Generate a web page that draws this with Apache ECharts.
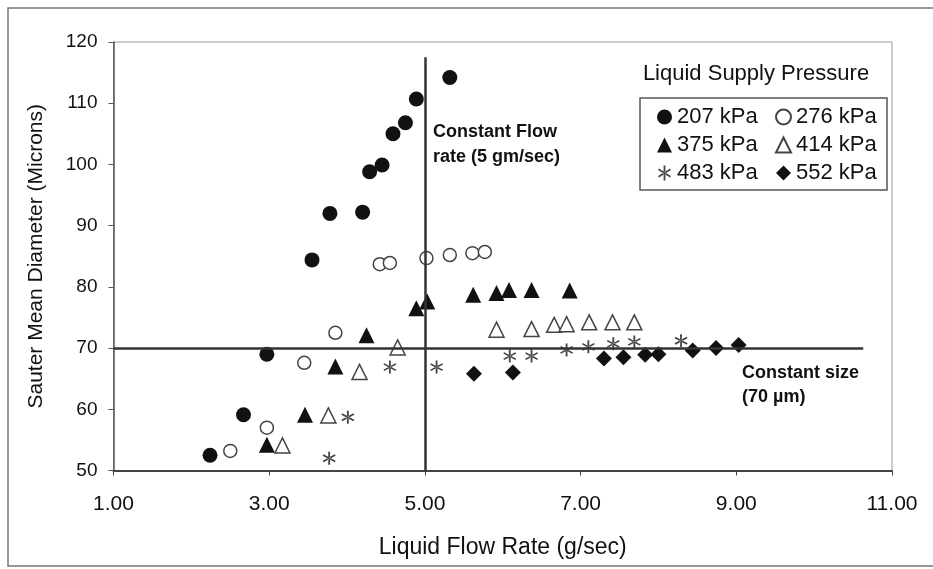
<!DOCTYPE html>
<html>
<head>
<meta charset="utf-8">
<script src="https://cdn.jsdelivr.net/npm/echarts@6/dist/echarts.min.js"></script>
<style>
  html, body { margin: 0; padding: 0; background: #fff; }
  #chart { width: 933px; height: 569px; }
</style>
</head>
<body>
<div id="chart"></div>
<script>
// flow rate (g/sec), Sauter mean diameter (microns)
const p207 = [[2.24, 52.5], [2.67, 59.1], [2.97, 69.0], [3.55, 84.4], [3.78, 92.0], [4.20, 92.2],
  [4.29, 98.8], [4.45, 99.9], [4.59, 105.0], [4.75, 106.8], [4.89, 110.7], [5.32, 114.2]]
const p276 = [[2.50, 53.2], [2.97, 57.0], [3.45, 67.6], [3.85, 72.5], [4.42, 83.7], [4.55, 83.9],
  [5.02, 84.7], [5.32, 85.2], [5.61, 85.5], [5.77, 85.7]]
const p375 = [[2.97, 54.2], [3.46, 59.1], [3.85, 67.0], [4.25, 72.1], [4.89, 76.5], [5.03, 77.6],
  [5.62, 78.7], [5.92, 79.0], [6.08, 79.5], [6.37, 79.5], [6.86, 79.4]]
const p414 = [[3.17, 54.1], [3.76, 59.0], [4.16, 66.1], [4.65, 70.1], [5.92, 73.0], [6.37, 73.1],
  [6.66, 73.8], [6.82, 73.9], [7.11, 74.2], [7.41, 74.2], [7.69, 74.2]]
const p483 = [[3.77, 52.0], [4.01, 58.7], [4.55, 66.9], [5.15, 66.9], [6.09, 68.7], [6.37, 68.7],
  [6.82, 69.7], [7.10, 70.2], [7.42, 70.7], [7.69, 71.0], [8.29, 71.2]]
const p552 = [[5.63, 65.8], [6.13, 66.0], [7.30, 68.3], [7.55, 68.5], [7.83, 68.9], [8.00, 69.0],
  [8.44, 69.6], [8.74, 70.0], [9.03, 70.5]]

const xTicks = [1, 3, 5, 7, 9, 11]
const yTicks = [50, 60, 70, 80, 90, 100, 110, 120]
const constFlow = 5
const constSize = 70

const FONT = '"Liberation Sans", Arial, sans-serif'
const ink = '#111'

// six-armed asterisk made of thin bars
const asterisk = 'path://M4.4,0L5.6,0L5.6,10L4.4,10Z' +
  'M1.3,2.0L9.3,7.0L8.7,8.0L0.7,3.0Z' +
  'M1.3,8.0L9.3,3.0L8.7,2.0L0.7,7.0Z'

const chart = echarts.init(document.getElementById('chart'))

const dot = (name, data, symbol, size, itemStyle) => ({
  name, type: 'scatter', data, symbol, symbolSize: size,
  itemStyle: Object.assign({ opacity: 1 }, itemStyle)
})

chart.setOption({
  animation: false,
  grid: {
    left: 113.5, right: 41, top: 42, bottom: 98.5,
    show: true, borderColor: '#9a9a9a', borderWidth: 1
  },
  xAxis: {
    type: 'value', min: xTicks[0], max: xTicks[xTicks.length - 1], interval: 2,
    name: 'Liquid Flow Rate (g/sec)', nameLocation: 'middle', nameGap: 66,
    nameTextStyle: { fontFamily: FONT, fontSize: 23, color: ink },
    axisLine: { lineStyle: { color: '#444', width: 2 } },
    axisTick: { length: 5, lineStyle: { color: '#444' } },
    axisLabel: { fontFamily: FONT, fontSize: 21, color: ink, margin: 23, formatter: v => v.toFixed(2) },
    splitLine: { show: false }
  },
  yAxis: {
    type: 'value', min: yTicks[0], max: yTicks[yTicks.length - 1], interval: 10,
    name: 'Sauter Mean Diameter (Microns)', nameLocation: 'middle', nameGap: 67,
    nameTextStyle: { fontFamily: FONT, fontSize: 21, color: ink },
    axisLine: { show: true, lineStyle: { color: '#555', width: 1.5 } },
    axisTick: { show: true, length: 5, lineStyle: { color: '#555' } },
    axisLabel: { fontFamily: FONT, fontSize: 19, color: ink, margin: 16 },
    splitLine: { show: false }
  },
  legend: [
    {
      data: ['207 kPa', '375 kPa', '483 kPa'], orient: 'vertical', left: 652, top: 101,
      itemWidth: 15, itemHeight: 15, itemGap: 6,
      textStyle: { fontFamily: FONT, fontSize: 22, color: ink, lineHeight: 22 }
    },
    {
      data: ['276 kPa', '414 kPa', '552 kPa'], orient: 'vertical', left: 770, top: 101,
      itemWidth: 15, itemHeight: 15, itemGap: 6,
      textStyle: { fontFamily: FONT, fontSize: 22, color: ink, lineHeight: 22 }
    }
  ],
  graphic: [
    { type: 'rect', shape: { x: 8, y: 8, width: 930, height: 558 }, style: { fill: 'none', stroke: '#777', lineWidth: 1.5 }, silent: true },
    { type: 'rect', shape: { x: 640, y: 98, width: 247, height: 92 }, style: { fill: 'none', stroke: '#555', lineWidth: 1.5 }, silent: true },
    { type: 'text', x: 756, y: 74, style: { text: 'Liquid Supply Pressure', font: '22px ' + FONT, fill: ink, align: 'center', verticalAlign: 'middle' } },
    { type: 'text', x: 433, y: 145, style: { text: 'Constant Flow\nrate (5 gm/sec)', font: 'bold 18px ' + FONT, fill: '#111', lineHeight: 25, verticalAlign: 'middle' } },
    { type: 'text', x: 742, y: 385, style: { text: 'Constant size\n(70 \u00b5m)', font: 'bold 18px ' + FONT, fill: '#111', lineHeight: 24, verticalAlign: 'middle' } }
  ],
  series: [
    {
      type: 'line', data: [], silent: true,
      markLine: {
        symbol: 'none', silent: true, label: { show: false },
        lineStyle: { color: '#333', width: 2.5, type: 'solid' },
        data: [
          [{ coord: [constFlow, 50] }, { coord: [constFlow, 117.5] }],
          [{ coord: [1, constSize] }, { coord: [10.63, constSize] }]
        ]
      }
    },
    dot('207 kPa', p207, 'circle', 15, { color: '#111' }),
    dot('276 kPa', p276, 'circle', 13, { color: '#fff', borderColor: '#444', borderWidth: 1.5 }),
    dot('375 kPa', p375, 'triangle', 16, { color: '#111' }),
    dot('414 kPa', p414, 'triangle', 15, { color: '#fff', borderColor: '#444', borderWidth: 1.5 }),
    dot('483 kPa', p483, asterisk, 13, { color: '#444' }),
    dot('552 kPa', p552, 'diamond', 16, { color: '#111' })
  ]
})
</script>
</body>
</html>
